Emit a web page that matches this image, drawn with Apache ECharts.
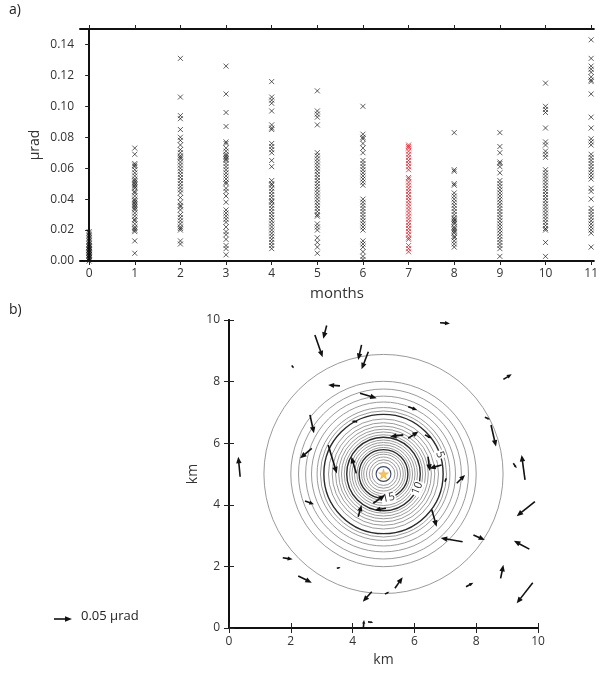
<!DOCTYPE html>
<html><head><meta charset="utf-8">
<script src="https://cdn.jsdelivr.net/npm/echarts@6/dist/echarts.min.js"></script>
<style>html,body{margin:0;padding:0;background:#fff}#c{width:601px;height:675px}</style>
</head><body><div id="c"></div>
<script>
// ---------- Panel a data: tilt amplitude (µrad) per month ----------
const monthTicks = [0,1,2,3,4,5,6,7,8,9,10,11];
const redMonth = 7;
const m0 = [0.019,0.018,0.017,0.016,0.015,0.014,0.013,0.012,0.011,0.010,0.010,0.009,0.009,0.008,0.008,0.007,0.007,0.006,0.006,0.005,0.005,0.004,0.004,0.003,0.003,0.002,0.002,0.001,0.001,0.000];
const m1 = [0.073,0.069,0.063,0.062,0.061,0.059,0.057,0.055,0.053,0.052,0.051,0.050,0.049,0.048,0.047,0.045,0.044,0.042,0.040,0.039,0.038,0.037,0.036,0.035,0.034,0.033,0.031,0.029,0.027,0.026,0.024,0.022,0.021,0.020,0.019,0.013,0.005];
const m2 = [0.131,0.106,0.094,0.092,0.085,0.080,0.078,0.075,0.072,0.070,0.068,0.067,0.066,0.064,0.062,0.060,0.058,0.056,0.054,0.052,0.050,0.048,0.046,0.044,0.041,0.038,0.036,0.035,0.033,0.030,0.028,0.026,0.024,0.022,0.021,0.020,0.013,0.011];
const m3 = [0.126,0.108,0.096,0.087,0.077,0.076,0.073,0.071,0.069,0.068,0.067,0.066,0.065,0.063,0.061,0.059,0.057,0.055,0.053,0.051,0.050,0.047,0.045,0.042,0.038,0.033,0.031,0.029,0.027,0.025,0.022,0.019,0.017,0.014,0.010,0.008,0.004];
const m4 = [0.116,0.106,0.104,0.102,0.097,0.088,0.086,0.085,0.076,0.074,0.072,0.070,0.065,0.061,0.052,0.050,0.049,0.047,0.045,0.043,0.041,0.039,0.038,0.036,0.034,0.032,0.030,0.028,0.026,0.024,0.022,0.020,0.018,0.016,0.014,0.012,0.010,0.008];
const m5 = [0.110,0.097,0.095,0.093,0.088,0.070,0.068,0.066,0.064,0.062,0.060,0.058,0.056,0.054,0.052,0.050,0.048,0.046,0.044,0.042,0.040,0.038,0.036,0.034,0.032,0.030,0.029,0.024,0.022,0.020,0.015,0.012,0.009,0.005];
const m6 = [0.100,0.082,0.080,0.079,0.076,0.073,0.070,0.065,0.063,0.061,0.059,0.057,0.055,0.053,0.051,0.049,0.040,0.038,0.036,0.034,0.032,0.030,0.028,0.026,0.024,0.022,0.020,0.013,0.011,0.009,0.006,0.003,0.001];
const m7 = [0.075,0.074,0.073,0.071,0.069,0.067,0.065,0.063,0.061,0.059,0.054,0.053,0.051,0.049,0.047,0.045,0.043,0.041,0.039,0.037,0.035,0.033,0.031,0.029,0.027,0.025,0.023,0.021,0.019,0.017,0.015,0.014,0.010,0.008,0.006];
const m8 = [0.083,0.059,0.058,0.050,0.049,0.044,0.042,0.040,0.038,0.036,0.034,0.032,0.030,0.028,0.027,0.026,0.025,0.024,0.022,0.021,0.020,0.019,0.018,0.016,0.015,0.013,0.011,0.009];
const m9 = [0.083,0.074,0.070,0.064,0.063,0.061,0.057,0.052,0.050,0.048,0.046,0.044,0.042,0.040,0.038,0.036,0.034,0.032,0.030,0.028,0.026,0.024,0.022,0.020,0.018,0.016,0.014,0.012,0.010,0.008,0.003];
const m10 = [0.115,0.100,0.098,0.096,0.086,0.077,0.075,0.071,0.069,0.067,0.059,0.057,0.055,0.053,0.051,0.049,0.047,0.045,0.043,0.041,0.039,0.037,0.035,0.033,0.031,0.029,0.027,0.025,0.023,0.021,0.020,0.012,0.003];
const m11 = [0.143,0.131,0.126,0.124,0.122,0.119,0.117,0.116,0.108,0.093,0.086,0.079,0.077,0.075,0.069,0.067,0.065,0.063,0.061,0.059,0.057,0.055,0.053,0.047,0.045,0.040,0.034,0.032,0.030,0.028,0.026,0.024,0.022,0.020,0.018,0.009];
const yTicksA = [0,0.02,0.04,0.06,0.08,0.10,0.12,0.14];

// ---------- Panel b data ----------
const sourceLoc = [5, 5];                // km
const contourRadii = [3.87,3.0,2.75,2.52,2.33,2.15,2.04,1.93,1.78,1.66,1.55,1.45,1.36,1.27,1.19,1.10,1.02,0.94,0.86,0.79,0.71,0.64,0.55,0.46,0.37];
const labelledRadii = [1.93, 1.19, 0.79];
const contourLabels = ['5', '10', '15'];
const labelAngleDeg = [19, -23, -78];
const sourceRingRadius = 0.24;
// tilt vectors: tail position (km) and vector (km on map)
const arrowX  = [3.16,2.78,2.03,4.29,4.51,3.59,4.24,2.62,2.68,3.21,4.12,0.36,4.15,6.83,8.88,5.80,8.28,8.48,5.64,5.80,6.34,6.44,6.88,9.20,9.58,7.37,6.99,9.90,6.56,7.56,7.91,9.72,8.79,7.67,9.83,5.37,5.05,2.46,4.18,5.08,4.67,1.74,3.49,2.24,4.62,4.35,4.50];
const arrowY  = [9.82,9.51,8.52,9.19,8.97,7.86,7.62,6.92,5.83,5.94,5.02,4.91,6.69,9.91,8.07,7.18,6.84,6.59,6.27,6.16,6.27,5.56,5.29,5.35,4.81,4.70,4.75,4.10,3.85,2.80,3.02,2.56,1.61,1.34,1.47,1.29,1.10,4.12,3.61,3.89,4.05,2.28,1.94,1.69,1.18,0.02,0.20];
const arrowDx = [-0.11,0.25,0.07,-0.11,-0.22,-0.38,0.54,0.13,-0.38,0.28,-0.16,-0.06,-0.18,0.32,0.27,0.29,0.17,0.16,-0.43,0.33,0.22,0.06,-0.40,0.11,-0.11,0.27,0.05,-0.59,0.16,-0.71,0.37,-0.50,0.09,0.24,-0.52,0.25,0.14,0.29,0.11,-0.36,0.38,0.32,0.12,0.44,-0.29,0.02,0.17];
const arrowDy = [-0.43,-0.72,-0.09,-0.49,-0.57,0.03,-0.16,-0.60,-0.32,-0.92,0.54,0.65,0.03,-0.02,0.17,-0.10,-0.07,-0.70,-0.06,0.22,-0.11,-0.46,-0.11,-0.16,0.81,0.27,0.14,-0.47,-0.56,0.12,-0.16,0.27,0.44,0.13,-0.67,0.36,0.08,-0.10,0.38,-0.06,0.27,-0.05,0.03,-0.22,-0.33,0.24,-0.02];

// ---------- build ----------
const FONT = 'Open Sans';
const monthLists = [m0,m1,m2,m3,m4,m5,m6,m7,m8,m9,m10,m11];
const blackPts = [], redPts = [];
monthLists.forEach((arr, i) => arr.forEach(v => (i === redMonth ? redPts : blackPts).push([monthTicks[i], v])));

function crossRender(color, op) {
  return function (params, api) {
    const p = api.coord([api.value(0), api.value(1)]);
    const s = 2.5;
    const st = { stroke: color, lineWidth: 0.9, opacity: op };
    return { type: 'group', children: [
      { type: 'line', shape: { x1: p[0]-s, y1: p[1]-s, x2: p[0]+s, y2: p[1]+s }, style: st },
      { type: 'line', shape: { x1: p[0]-s, y1: p[1]+s, x2: p[0]+s, y2: p[1]-s }, style: st }
    ]};
  };
}

const arrowData = arrowX.map((x, i) => [x, arrowY[i], arrowDx[i], arrowDy[i]]);
function arrowRender(params, api) {
  const x = api.value(0), y = api.value(1), dx = api.value(2), dy = api.value(3);
  const p0 = api.coord([x, y]), p1 = api.coord([x + dx, y + dy]);
  const vx = p1[0]-p0[0], vy = p1[1]-p0[1];
  const L = Math.hypot(vx, vy) || 1;
  const ux = vx / L, uy = vy / L;
  const hl = Math.min(6.5, L * 0.5), hw = hl * 0.42;
  const bx = p1[0] - ux * hl, by = p1[1] - uy * hl;
  return { type: 'group', children: [
    { type: 'line', shape: { x1: p0[0], y1: p0[1], x2: bx + ux*0.5, y2: by + uy*0.5 }, style: { stroke: '#111', lineWidth: 1.6 } },
    { type: 'polygon', shape: { points: [[p1[0], p1[1]], [bx - uy*hw, by + ux*hw], [bx + uy*hw, by - ux*hw]] }, style: { fill: '#111' } }
  ]};
}

const circleData = contourRadii.map(r => [sourceLoc[0], sourceLoc[1], r]);
function circleRender(params, api) {
  const c = api.coord([api.value(0), api.value(1)]);
  const r = api.value(2);
  const rp = api.size([r, r])[0];
  const bold = labelledRadii.indexOf(r) >= 0;
  return { type: 'circle', shape: { cx: c[0], cy: c[1], r: rp },
    style: { fill: 'none', stroke: bold ? '#2a2a2a' : '#8f8f8f', lineWidth: bold ? 1.4 : 0.9 } };
}
function ringRender(params, api) {
  const c = api.coord([api.value(0), api.value(1)]);
  const rp = api.size([api.value(2), api.value(2)])[0];
  return { type: 'circle', shape: { cx: c[0], cy: c[1], r: rp }, style: { fill: '#fff', stroke: '#3b4a6b', lineWidth: 1.1 } };
}
const labelData = labelledRadii.map((r, i) => {
  const a = labelAngleDeg[i] * Math.PI / 180;
  return [sourceLoc[0] + r * Math.cos(a), sourceLoc[1] + r * Math.sin(a), i];
});
function labelRender(params, api) {
  const p = api.coord([api.value(0), api.value(1)]);
  const i = api.value(2);
  let rr = (labelAngleDeg[i] + 90) * Math.PI / 180;
  if (rr > Math.PI/2) rr -= Math.PI;
  return { type: 'text', x: p[0], y: p[1], rotation: rr,
    style: { text: contourLabels[i], fill: '#333', font: '11px "Open Sans"', align: 'center', verticalAlign: 'middle',
      backgroundColor: '#fff', padding: [0, 1] } };
}

const axisLineBlk = { show: true, lineStyle: { color: '#111', width: 2 } };
const tickStyle = { show: true, inside: false, length: 4, lineStyle: { color: '#222', width: 1 } };
const labelStyle = { color: '#333', fontFamily: FONT, fontSize: 12 };
const X_MIN_A = -0.2, X_MAX_A = 11.06;

const chart = echarts.init(document.getElementById('c'), null, { renderer: 'canvas' });
chart.setOption({
  animation: false,
  backgroundColor: '#fff',
  grid: [
    { left: 80, top: 29, right: 0, height: 232 },
    { left: 229, top: 320, width: 309, height: 308 }
  ],
  xAxis: [
    { type: 'value', gridIndex: 0, min: X_MIN_A, max: X_MAX_A, position: 'bottom',
      axisLine: axisLineBlk, splitLine: { show: false },
      axisTick: Object.assign({}, tickStyle, { customValues: monthTicks }),
      axisLabel: Object.assign({}, labelStyle, { customValues: monthTicks, margin: 7, hideOverlap: false, alignMaxLabel: 'center', alignMinLabel: 'center' }),
      name: 'months', nameLocation: 'middle', nameGap: 25, nameMoveOverlap: false,
      nameTextStyle: { color: '#333', fontFamily: FONT, fontSize: 15 } },
    { type: 'value', gridIndex: 0, min: X_MIN_A, max: X_MAX_A, position: 'top',
      axisLine: axisLineBlk, splitLine: { show: false },
      axisTick: Object.assign({}, tickStyle, { customValues: monthTicks }),
      axisLabel: { show: false } },
    { type: 'value', gridIndex: 1, min: 0, max: 10, interval: 2, position: 'bottom',
      axisLine: axisLineBlk, splitLine: { show: false },
      axisTick: Object.assign({}, tickStyle, { length: 5 }),
      axisLabel: Object.assign({}, labelStyle, { margin: 8 }),
      name: 'km', nameLocation: 'middle', nameGap: 25, nameMoveOverlap: false,
      nameTextStyle: { color: '#333', fontFamily: FONT, fontSize: 14 } },
    { type: 'value', gridIndex: 1, min: 0, max: 10, interval: 2, position: 'top',
      axisLine: axisLineBlk, splitLine: { show: false },
      axisTick: Object.assign({}, tickStyle, { length: 5 }),
      axisLabel: { show: false } }
  ],
  yAxis: [
    { type: 'value', gridIndex: 0, min: 0, max: 0.15, position: 'left',
      axisLine: axisLineBlk, splitLine: { show: false },
      axisTick: Object.assign({}, tickStyle, { customValues: yTicksA }),
      axisLabel: Object.assign({}, labelStyle, { customValues: yTicksA, margin: 6, formatter: v => v.toFixed(2) }),
      name: 'µrad', nameLocation: 'middle', nameGap: 38, nameRotate: 90, nameMoveOverlap: false,
      nameTextStyle: { color: '#333', fontFamily: FONT, fontSize: 14 } },
    { type: 'value', gridIndex: 1, min: 0, max: 10, interval: 2, position: 'left',
      axisLine: axisLineBlk, splitLine: { show: false },
      axisTick: Object.assign({}, tickStyle, { length: 5 }),
      axisLabel: Object.assign({}, labelStyle, { margin: 9 }),
      name: 'km', nameLocation: 'middle', nameGap: 29, nameRotate: 90, nameMoveOverlap: false,
      nameTextStyle: { color: '#333', fontFamily: FONT, fontSize: 14 } },
    { type: 'value', gridIndex: 1, min: 0, max: 10, interval: 2, position: 'right',
      axisLine: axisLineBlk, splitLine: { show: false },
      axisTick: Object.assign({}, tickStyle, { length: 5 }),
      axisLabel: { show: false } }
  ],
  series: [
    { type: 'custom', name: 'tilt', xAxisIndex: 0, yAxisIndex: 0, data: blackPts,
      renderItem: crossRender('#111', 0.75), encode: { x: 0, y: 1 }, silent: true },
    { type: 'custom', name: 'tilt month 7', xAxisIndex: 0, yAxisIndex: 0, data: redPts,
      renderItem: crossRender('#e3202a', 0.9), encode: { x: 0, y: 1 }, silent: true },
    { type: 'custom', name: 'contours', xAxisIndex: 2, yAxisIndex: 1, data: circleData,
      renderItem: circleRender, encode: { x: 0, y: 1 }, silent: true },
    { type: 'custom', name: 'contour labels', xAxisIndex: 2, yAxisIndex: 1, data: labelData,
      renderItem: labelRender, encode: { x: 0, y: 1 }, silent: true },
    { type: 'custom', name: 'ring', xAxisIndex: 2, yAxisIndex: 1, data: [[sourceLoc[0], sourceLoc[1], sourceRingRadius]],
      renderItem: ringRender, encode: { x: 0, y: 1 }, silent: true },
    { type: 'custom', name: 'vectors', xAxisIndex: 2, yAxisIndex: 1, data: arrowData,
      renderItem: arrowRender, encode: { x: 0, y: 1 }, silent: true },
    { type: 'scatter', name: 'source', xAxisIndex: 2, yAxisIndex: 1, data: [sourceLoc],
      symbol: 'path://M50,0 L61,35 L98,35 L68,57 L79,91 L50,70 L21,91 L32,57 L2,35 L39,35 Z',
      symbolSize: 10, itemStyle: { color: '#f2b632', borderColor: '#e59a1a', borderWidth: 0.5 }, silent: true }
  ],
  graphic: [
    { type: 'text', left: 9, top: 3, style: { text: 'a)', font: '14px "Open Sans"', fill: '#222' } },
    { type: 'text', left: 9, top: 303, style: { text: 'b)', font: '14px "Open Sans"', fill: '#222' } },
    { type: 'line', shape: { x1: 54, y1: 619, x2: 66, y2: 619 }, style: { stroke: '#111', lineWidth: 1.6 } },
    { type: 'polygon', shape: { points: [[72, 619], [65, 616.3], [65, 621.7]] }, style: { fill: '#111' } },
    { type: 'text', left: 81, top: 610, style: { text: '0.05 µrad', font: '13px "Open Sans"', fill: '#222' } }
  ]
});
</script></body></html>
